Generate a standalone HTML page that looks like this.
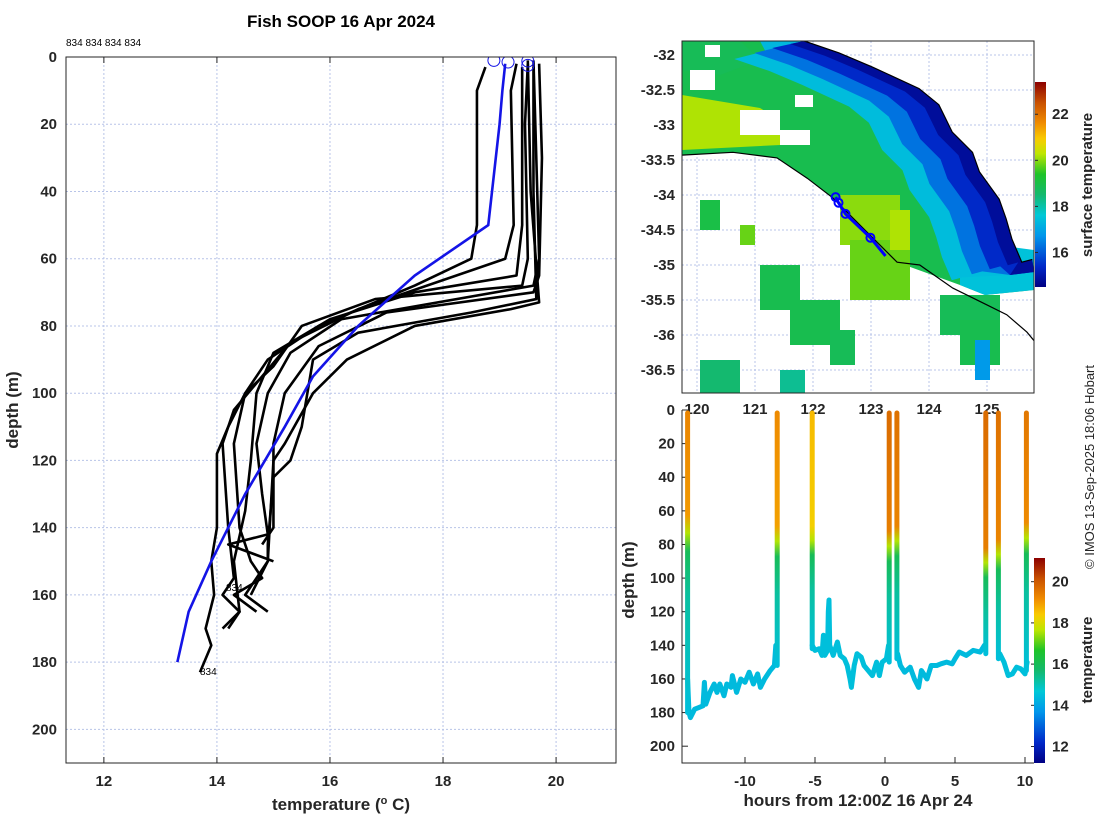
<!DOCTYPE html>
<html><head><meta charset="utf-8"><style>
body{margin:0;background:#fff;}
svg{display:block;font-family:"Liberation Sans","DejaVu Sans",sans-serif;}
.tk{font-size:15px;font-weight:bold;fill:#262626;}
.lb{font-size:17px;font-weight:bold;fill:#262626;}
</style></head><body>
<svg id="s" width="1100" height="820" viewBox="0 0 1100 820" xmlns="http://www.w3.org/2000/svg">
<defs>
<clipPath id="cL"><rect x="66" y="57" width="550" height="706"/></clipPath>
<clipPath id="cM"><rect x="682" y="41" width="352" height="352"/></clipPath>
<clipPath id="cB"><rect x="682" y="410" width="352" height="353"/></clipPath>
</defs>
<text x="341" y="27" text-anchor="middle" style="font-size:17px;font-weight:bold">Fish SOOP 16 Apr 2024</text>
<text x="66" y="46" style="font-size:10px">834 834 834 834</text>
<g id="left"></g>
<g id="map"></g>
<g id="sect"></g>
<text transform="translate(1094,467) rotate(-90)" text-anchor="middle" style="font-size:13px" fill="#262626">© IMOS 13-Sep-2025 18:06 Hobart</text>
</svg>
<script>
const NS="http://www.w3.org/2000/svg";
function mk(tag,attrs,parent,txt){const e=document.createElementNS(NS,tag);for(const k in attrs)e.setAttribute(k,attrs[k]);if(txt!==undefined)e.textContent=txt;parent.appendChild(e);return e;}
const CM=[[0,0,0,130],[0.1,0,40,200],[0.25,0,150,235],[0.35,0,200,215],[0.45,20,185,110],[0.55,30,195,40],[0.65,190,230,0],[0.72,250,205,0],[0.8,240,140,0],[0.9,200,80,0],[1,140,0,0]];
function jet(t){t=Math.max(0,Math.min(1,t));for(let i=1;i<CM.length;i++){if(t<=CM[i][0]){const a=CM[i-1],b=CM[i],f=(t-a[0])/(b[0]-a[0]);
return `rgb(${Math.round(a[1]+f*(b[1]-a[1]))},${Math.round(a[2]+f*(b[2]-a[2]))},${Math.round(a[3]+f*(b[3]-a[3]))})`;}}return 'rgb(140,0,0)';}

// ---------- LEFT PROFILE DATA ----------
const xTicks=[12,14,16,18,20];
const yTicks=[0,20,40,60,80,100,120,140,160,180,200];
const profileTemps=[
[18.75,18.6,18.6,18.5,17.5,15.8,14.9,14.5,14.2,14.0,14.0,13.9,13.95,13.8,13.9,13.7],
[19.3,19.2,19.25,19.1,16.5,15.3,14.8,14.3,14.1,14.2,14.3,14.1,14.4,14.1],
[19.5,19.45,19.5,19.4,16.8,15.5,15.0,14.5,14.3,14.4,14.6,14.8,14.3,14.7],
[19.6,19.65,19.7,19.6,16.2,15.3,14.9,14.7,14.8,14.9,14.2,15.0],
[19.7,19.75,19.7,19.6,17.0,15.8,15.2,15.0,15.0,14.8],
[19.6,19.6,19.65,18.5,16.5,15.7,15.5,15.3,15.0,14.9,14.9,14.5,14.9],
[19.5,19.55,19.7,19.2,17.5,16.3,15.7,15.2,15.0,14.9,14.6],
[19.4,19.4,19.3,17.5,16.0,15.0,14.7,14.6,14.5,14.3,14.4,14.2]];
const profileDepths=[
[3,10,50,60,68,80,90,100,110,118,140,150,160,170,175,183],
[2,10,50,60,75,85,95,105,115,140,155,160,165,170],
[2,20,60,68,72,80,92,100,115,140,150,155,160,165],
[1,30,60,68,78,88,100,115,130,142,145,150],
[2,30,65,70,76,86,100,115,140,145],
[3,40,72,76,82,90,110,120,125,145,150,160,165],
[1,40,73,75,80,90,100,115,120,150,160],
[3,50,65,70,78,88,100,120,135,150,165,170]];
const blueTemps=[19.1,19.05,19.0,18.8,17.5,16.5,15.7,15.2,14.5,13.9,13.5,13.3];
const blueDepths=[2,10,20,50,65,80,95,110,130,150,165,180];
const surfTemps=[18.9,19.15,19.5,19.5];
const surfDepths=[1,1.5,1.2,2.5];

const L=document.getElementById('left');
const lx=t=>66+(t-11.33)*(550/(21.06-11.33));
const ly=d=>57+d*(706/210);
xTicks.forEach(t=>{const g=mk('line',{x1:lx(t),x2:lx(t),y1:57,y2:763,stroke:'#b8c4e8','stroke-dasharray':'2,2','stroke-width':1},L);
 const tl=mk('text',{x:lx(t),y:786,'text-anchor':'middle',class:'tk'},L,String(t));
 mk('line',{x1:lx(t),x2:lx(t),y1:57,y2:63,stroke:'#262626'},L);mk('line',{x1:lx(t),x2:lx(t),y1:763,y2:757,stroke:'#262626'},L);});
yTicks.forEach(d=>{const g=mk('line',{x1:66,x2:616,y1:ly(d),y2:ly(d),stroke:'#b8c4e8','stroke-dasharray':'2,2','stroke-width':1},L);
 const tl=mk('text',{x:57,y:ly(d)+5,'text-anchor':'end',class:'tk'},L,String(d));});
const gL=mk('g',{'clip-path':'url(#cL)'},L);
profileTemps.forEach((ts,i)=>{const pts=ts.map((t,j)=>lx(t)+','+ly(profileDepths[i][j])).join(' ');
 const p=mk('polyline',{points:pts,fill:'none',stroke:'#000','stroke-width':2.6,'stroke-linejoin':'round'},gL);
 });
const bp=mk('polyline',{points:blueTemps.map((t,j)=>lx(t)+','+ly(blueDepths[j])).join(' '),fill:'none',stroke:'#1414e6','stroke-width':2.6},gL);

surfTemps.forEach((t,j)=>{const c=mk('circle',{cx:lx(t),cy:ly(surfDepths[j]),r:6,fill:'none',stroke:'#1414e6','stroke-width':1},gL);});
mk('text',{x:200,y:675,style:'font-size:10px'},L,'834');
mk('text',{x:226,y:591,style:'font-size:10px'},L,'834');
mk('rect',{x:66,y:57,width:550,height:706,fill:'none',stroke:'#262626'},L);
let t1=mk('text',{x:341,y:810,'text-anchor':'middle',class:'lb'},L);t1.innerHTML='temperature (<tspan dy="-6" style="font-size:11px">o</tspan><tspan dy="6"> C)</tspan>';

let t2=mk('text',{transform:'translate(18,410) rotate(-90)','text-anchor':'middle',class:'lb'},L,'depth (m)');


// ---------- MAP ----------
const lonTicks=[120,121,122,123,124,125];
const latTicks=[-32,-32.5,-33,-33.5,-34,-34.5,-35,-35.5,-36,-36.5];
const coastLon=[121.85,122.45,123.02,123.83,124.17,124.4,124.75,124.87,125.21,125.33,125.43,125.6,125.78];
const coastLat=[-31.8,-31.97,-32.17,-32.48,-32.71,-33.1,-33.39,-33.67,-34.06,-34.34,-34.63,-34.96,-34.92];
const trackLon=[119.74,120.62,121.38,121.9,122.34,122.93,123.45,123.84,124.41,125.0,125.34,125.69,125.83];
const trackLat=[-33.43,-33.39,-33.47,-33.76,-34.04,-34.53,-34.96,-35.0,-35.33,-35.57,-35.71,-35.96,-36.1];
const shipLon=[122.39,122.44,122.56,122.99,123.25];
const shipLat=[-34.03,-34.11,-34.27,-34.61,-34.87];
const shipMarkLon=[122.39,122.44,122.56,122.99];
const shipMarkLat=[-34.03,-34.11,-34.27,-34.61];
const M=document.getElementById('map');
const mx=lo=>697+(lo-120)*58;
const my=la=>55+(-32-la)*70;
lonTicks.forEach(lo=>{mk('line',{x1:mx(lo),x2:mx(lo),y1:41,y2:393,stroke:'#b8c4e8','stroke-dasharray':'2,2'},M);
 const tl=mk('text',{x:mx(lo),y:414,'text-anchor':'middle',class:'tk'},M,String(lo));});
latTicks.forEach(la=>{mk('line',{x1:682,x2:1034,y1:my(la),y2:my(la),stroke:'#b8c4e8','stroke-dasharray':'2,2'},M);
 const tl=mk('text',{x:675,y:my(la)+5,'text-anchor':'end',class:'tk'},M,String(la));});
const gM=mk('g',{'clip-path':'url(#cM)'},M);
const cst=coastLon.map((lo,i)=>[mx(lo),my(coastLat[i])]);
const trk=trackLon.map((lo,i)=>[mx(lo),my(trackLat[i])]);
const P=a=>a.map(p=>p[0]+','+p[1]).join(' ');
const sstCol=v=>jet((v-14.5)/(23.4-14.5));
let main=[[682,41],[805,41]].concat(cst).concat([[1034,257],[1034,290],[985,295],[960,285]]).concat(trk.slice(0,7).reverse());
mk('polygon',{points:P(main),fill:sstCol(18.9)},gM);
mk('polygon',{points:'682,95 700,98 760,108 780,120 780,145 682,150',fill:sstCol(20.2)},gM);
mk('polygon',{points:'682,41 740,41 760,60 720,75 682,70',fill:sstCol(18.8)},gM);
mk('polygon',{points:'760,41 805,41 830,60 800,75 770,60',fill:sstCol(17.3)},gM);
mk('polygon',{points:'960,240 1034,250 1034,290 985,295 960,285',fill:sstCol(17.5)},gM);
const off=(a,dx,dy)=>a.map(p=>[p[0]+dx,p[1]+dy]);
const band=(dx,dy,v)=>{mk('polygon',{points:P(cst.concat([[1034,272],[1010,275]]).concat(off(cst,dx,dy).reverse())),fill:sstCol(v)},gM);};
band(-70,18,17.4);band(-50,12,16.3);band(-32,7,15.4);band(-14,3,14.8);
[[740,110,40,25],[690,70,25,20],[780,130,30,15],[830,200,25,20],[705,45,15,12],[795,95,18,12]].forEach(r=>mk('rect',{x:r[0],y:r[1],width:r[2],height:r[3],fill:'#fff'},gM));
const patches=[[840,195,60,50,20.0],[850,240,60,60,19.8],[760,265,40,45,18.9],[790,300,50,45,18.9],[700,200,20,30,19.0],[830,330,25,35,18.8],[940,295,60,40,18.8],[960,320,40,45,18.9],[975,340,15,40,16.8],[700,360,40,33,18.5],[780,370,25,23,18.2],[890,210,20,40,20.2],[740,225,15,20,19.8]];
patches.forEach(q=>{const r=mk('rect',{x:q[0],y:q[1],width:q[2],height:q[3],fill:sstCol(q[4])},gM);});
const cl=mk('polyline',{points:P(cst),fill:'none',stroke:'#000','stroke-width':1.2},gM);
const tl2=mk('polyline',{points:P(trk),fill:'none',stroke:'#000','stroke-width':1.2},gM);
const sh=mk('polyline',{points:P(shipLon.map((lo,i)=>[mx(lo),my(shipLat[i])])),fill:'none',stroke:'#0000ff','stroke-width':3},gM);
shipMarkLon.forEach((lo,i)=>{const c=mk('circle',{cx:mx(lo),cy:my(shipMarkLat[i]),r:4,fill:'none',stroke:'#0000ff','stroke-width':2},gM);});
mk('rect',{x:682,y:41,width:352,height:352,fill:'none',stroke:'#262626'},M);
const cbTicks1=[16,18,20,22];
const cb1y=v=>287-(v-14.5)*(205/(23.4-14.5));
const gr1=mk('linearGradient',{id:'jet1',x1:0,y1:1,x2:0,y2:0},document.querySelector('defs'));
for(let i=0;i<=40;i++)mk('stop',{offset:i/40,'stop-color':jet(i/40)},gr1);
const cb1=mk('rect',{x:1035,y:82,width:11,height:205,fill:'url(#jet1)'},M);
cbTicks1.forEach(v=>{mk('line',{x1:1035,x2:1038,y1:cb1y(v),y2:cb1y(v),stroke:'#262626'},M);mk('text',{x:1052,y:cb1y(v)+5,class:'tk','font-weight':'normal'},M,String(v));});
let ct1=mk('text',{transform:'translate(1092,185) rotate(-90)','text-anchor':'middle',class:'lb',style:'font-size:15px'},M,'surface temperature');

// ---------- SECTION ----------
const hTicks=[-10,-5,0,5,10];
const dTicks=[0,20,40,60,80,100,120,140,160,180,200];
const castHours=[-14.1,-7.7,-5.2,0.3,0.85,7.2,8.1,10.1];
const castBottoms=[180,152,142,150,148,145,148,155];
const castSurfT=[19.3,19.2,18.6,19.7,19.6,19.7,19.6,19.5];
const castMixDepth=[66,72,72,75,72,85,80,70];
const segHours=[
[-14.1,-14.0,-13.9,-13.6,-13.3,-13.0,-12.9,-12.8,-12.5,-12.2,-12,-11.8,-11.5,-11.3,-11,-10.9,-10.6,-10.3,-10,-9.7,-9.4,-9.1,-8.9,-8.6,-8.2,-7.9,-7.8],
[-5.2,-5,-4.7,-4.5,-4.4,-4.3,-4.1,-4.05,-4.0,-3.95,-3.7,-3.4,-3.2,-2.9,-2.7,-2.5,-2.4,-2.2,-2.0,-1.7,-1.5,-1.2,-0.9,-0.6,-0.4,-0.2,0.1,0.25],
[0.9,1.1,1.4,1.8,2.1,2.4,2.6,3,3.3,3.7,4,4.4,4.8,5,5.3,5.8,6.3,6.8,7.1],
[8.2,8.5,8.8,9.1,9.4,9.7,10,10.15]];
const segDepths=[
[160,180,183,178,177,176,162,175,168,163,168,163,170,163,165,158,168,160,162,156,163,157,165,160,155,152,140],
[140,143,142,146,134,146,143,120,113,140,146,138,146,148,152,160,165,152,145,147,152,155,158,150,158,150,148,140],
[145,152,156,153,160,165,155,160,152,152,151,150,151,148,144,146,143,144,140],
[145,150,158,157,153,154,157,150]];
const segTemps=[14.4,14.5,14.4,14.5];
const S=document.getElementById('sect');
const sx=h=>885+h*14;
const sy=d=>410+d*(353/210);
const tcol=v=>jet((v-11.2)/(21.15-11.2));
hTicks.forEach(h=>{const tl=mk('text',{x:sx(h),y:786,'text-anchor':'middle',class:'tk'},S,String(h));
 mk('line',{x1:sx(h),x2:sx(h),y1:763,y2:757,stroke:'#262626'},S);});
dTicks.forEach(d=>{const tl=mk('text',{x:675,y:sy(d)+5,'text-anchor':'end',class:'tk'},S,String(d));
 mk('line',{x1:682,x2:688,y1:sy(d),y2:sy(d),stroke:'#262626'},S);});
const gS=mk('g',{'clip-path':'url(#cB)'},S);
const defs=document.querySelector('defs');
segHours.forEach((hs,i)=>{const p=mk('polyline',{points:hs.map((h,j)=>sx(h)+','+sy(segDepths[i][j])).join(' '),fill:'none',stroke:tcol(segTemps[i]),'stroke-width':5,'stroke-linejoin':'round','stroke-linecap':'round'},gS);
 });
castHours.forEach((h,i)=>{const id='cg'+i;const g=mk('linearGradient',{id:id,gradientUnits:'userSpaceOnUse',x1:0,y1:sy(0),x2:0,y2:sy(castBottoms[i])},defs);
 const md=castMixDepth[i]/castBottoms[i];
 [[0,castSurfT[i]],[md-0.02,castSurfT[i]-0.3],[md+0.04,17.6],[md+0.1,16.0],[md+0.25,15.2],[1,14.5]].forEach(s=>mk('stop',{offset:Math.min(1,s[0]),'stop-color':tcol(s[1])},g));
 const l=mk('line',{x1:sx(h),x2:sx(h),y1:sy(0)+3,y2:sy(castBottoms[i]),stroke:'url(#'+id+')','stroke-width':5,'stroke-linecap':'round'},gS);
 });
mk('polyline',{points:'682,410 682,763 1034,763',fill:'none',stroke:'#262626'},S);
const cbTicks2=[12,14,16,18,20];
const cb2y=v=>763-(v-11.2)*(205/(21.15-11.2));
const cb2=mk('rect',{x:1034,y:558,width:11,height:205,fill:'url(#jet1)'},S);
cbTicks2.forEach(v=>{mk('line',{x1:1031,x2:1034,y1:cb2y(v),y2:cb2y(v),stroke:'#262626'},S);mk('text',{x:1052,y:cb2y(v)+5,class:'tk','font-weight':'normal'},S,String(v));});
let ct2=mk('text',{transform:'translate(1092,660) rotate(-90)','text-anchor':'middle',class:'lb',style:'font-size:15px'},S,'temperature');
let t3=mk('text',{x:858,y:806,'text-anchor':'middle',class:'lb'},S,'hours from 12:00Z 16 Apr 24');
let t4=mk('text',{transform:'translate(634,580) rotate(-90)','text-anchor':'middle',class:'lb'},S,'depth (m)');
</script>
</body></html>
